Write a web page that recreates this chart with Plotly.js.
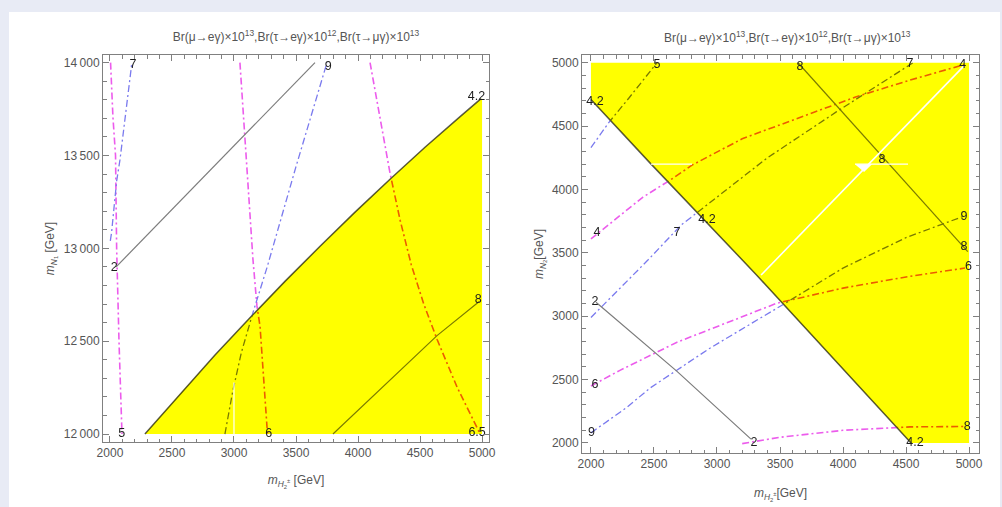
<!DOCTYPE html>
<html>
<head>
<meta charset="utf-8">
<script src="https://cdn.plot.ly/plotly-3.0.1.min.js"></script>
<style>
  html, body { margin: 0; padding: 0; background: #e8ebf5; }
  #chart { width: 1002px; height: 507px; }
</style>
</head>
<body>
<div id="chart"></div>
<script>
// ---------- left panel: m_N1 versus m_H2± ----------
// Br(mu->e gamma) contours (solid)
const L_mueg42_x = [2282, 2565, 2847, 3129, 3411, 3694, 3976, 4258, 4540, 4823, 4992];
const L_mueg42_y = [12000, 12215, 12425, 12626, 12822, 13011, 13195, 13372, 13544, 13709, 13806];
const L_mueg2_x = [2050, 3653];
const L_mueg2_y = [12900, 14000];
const L_mueg8_x = [3798, 4200, 4637, 4980];
const L_mueg8_y = [12000, 12255, 12530, 12715];
// Br(tau->e gamma) contours
const L_taueg7_x = [2003, 2013, 2030, 2054, 2081, 2121, 2177];
const L_taueg7_y = [13040, 13084, 13200, 13362, 13477, 13708, 14000];
const L_taueg9_x = [2927, 2990, 3060, 3153, 3266, 3500, 3750];
const L_taueg9_y = [12000, 12230, 12440, 12654, 12896, 13440, 14000];
// Br(tau->mu gamma) contours
const L_taumug5_x = [2005, 2024, 2045, 2054, 2073, 2097];
const L_taumug5_y = [14000, 13708, 13500, 13000, 12500, 12000];
const L_taumug6_x = [3048, 3089, 3130, 3153, 3185, 3210, 3266, 3272];
const L_taumug6_y = [14000, 13600, 13200, 12940, 12690, 12580, 12040, 12000];
const L_taumug65_x = [4097, 4180, 4258, 4340, 4430, 4530, 4637, 4800, 4960, 4985];
const L_taumug65_y = [14000, 13700, 13405, 13150, 12910, 12700, 12510, 12250, 12040, 12000];
// excluded region above the 4.2 contour
const L_region_x = [2282, 2565, 2847, 3129, 3411, 3694, 3976, 4258, 4540, 4823, 4992, 5000, 5000];
const L_region_y = [12000, 12215, 12425, 12626, 12822, 13011, 13195, 13372, 13544, 13709, 13806, 13806, 12000];
const L_gap_x = [3000, 3000];
const L_gap_y = [12000, 12277];
// contour labels
const L_lab_text = ['7', '9', '4.2', '2', '5', '6', '8', '6.5'];
const L_lab_x = [2185, 3760, 4955, 2035, 2095, 3280, 4970, 4960];
const L_lab_y = [13990, 13975, 13815, 12895, 12000, 12000, 12725, 12005];

// ---------- right panel: m_N2 versus m_H2± ----------
const R_mueg42_x = [2000, 2468, 3310, 4540];
const R_mueg42_y = [4710, 4210, 3330, 2000];
const R_mueg2_x = [2040, 2683, 3270];
const R_mueg2_y = [3110, 2565, 2030];
const R_mueg8_x = [3643, 4990];
const R_mueg8_y = [5000, 3510];
const R_taueg5_x = [2000, 2143, 2300, 2492, 2524];
const R_taueg5_y = [4330, 4530, 4720, 4958, 5000];
const R_taueg7_x = [2000, 2452, 2714, 2889, 3400, 3944, 4556];
const R_taueg7_y = [2990, 3443, 3718, 3852, 4250, 4610, 5000];
const R_taueg9_x = [2000, 2286, 2468, 2944, 3556, 4000, 4500, 4960];
const R_taueg9_y = [2080, 2282, 2433, 2748, 3111, 3380, 3620, 3790];
const R_taumug4_x = [2000, 2413, 2627, 2802, 3200, 3659, 4100, 4532, 4960];
const R_taumug4_y = [3610, 3940, 4073, 4192, 4400, 4571, 4730, 4863, 4985];
const R_taumug6_x = [2000, 2230, 2683, 3100, 3476, 4000, 4500, 4968];
const R_taumug6_y = [2450, 2573, 2795, 2960, 3103, 3222, 3310, 3380];
const R_taumug8_x = [3200, 3500, 4000, 4532, 4960];
const R_taumug8_y = [1995, 2045, 2100, 2127, 2130];
const R_region_x = [2000, 5000, 5000, 4540, 3310, 2468, 2000];
const R_region_y = [5000, 5000, 2000, 2000, 3330, 4210, 4710];
// sampling gaps inside the region
const R_gapd_x = [3350, 4960];
const R_gapd_y = [3325, 4975];
const R_gaph1_x = [2476, 2802];
const R_gaph1_y = [4200, 4200];
const R_gaph2_x = [4095, 4516];
const R_gaph2_y = [4200, 4200];
const R_gapt_x = [4095, 4230, 4167, 4095];
const R_gapt_y = [4200, 4200, 4137, 4200];
const R_lab_text = ['5', '8', '7', '4', '4.2', '8', '4', '7', '4.2', '9', '8', '6', '2', '6', '9', '2', '8', '4.2'];
const R_lab_x = [2524, 3659, 4532, 4950, 2032, 4310, 2048, 2683, 2921, 4960, 4960, 4995, 2032, 2032, 2005, 3294, 4985, 4571];
const R_lab_y = [4981, 4966, 4995, 4981, 4690, 4232, 3655, 3655, 3757, 3781, 3545, 3388, 3110, 2456, 2077, 2000, 2127, 2000];

// tick labels
const L_xticks = [2000, 2500, 3000, 3500, 4000, 4500, 5000];
const L_xtext = ['2000', '2500', '3000', '3500', '4000', '4500', '5000'];
const L_yticks = [12000, 12500, 13000, 13500, 14000];
const L_ytext = ['12\u2009000', '12\u2009500', '13\u2009000', '13\u2009500', '14\u2009000'];
const R_xticks = [2000, 2500, 3000, 3500, 4000, 4500, 5000];
const R_xtext = ['2000', '2500', '3000', '3500', '4000', '4500', '5000'];
const R_yticks = [2000, 2500, 3000, 3500, 4000, 4500, 5000];
const R_ytext = ['2000', '2500', '3000', '3500', '4000', '4500', '5000'];

const TITLE = 'Br(\u03bc\u2192e\u03b3)\u00d710<sup>13</sup>,Br(\u03c4\u2192e\u03b3)\u00d710<sup>12</sup>,Br(\u03c4\u2192\u03bc\u03b3)\u00d710<sup>13</sup>';
const XTITLE_L = '<i>m</i><sub><i>H</i><sub>2</sub><sup>\u00b1</sup></sub> [GeV]';
const XTITLE_R = '<i>m</i><sub><i>H</i><sub>2</sub><sup>\u00b1</sup></sub>[GeV]';
const YTITLE_L = '<i>m</i><sub><i>N</i><sub>1</sub></sub> [GeV]';
const YTITLE_R = '<i>m</i><sub><i>N</i><sub>2</sub></sub>[GeV]';

// ---------- styles ----------
const FONT = 'Liberation Sans, Arial, sans-serif';
const GRAY = '#7c7c7c';
const EDGE = '#5a5a5a';
const BLUE = 'rgb(122,122,238)';
const MAGENTA = 'rgb(236,92,236)';
const DOTDASH = '7px,3px,2px,3px';
const YELLOW = 'rgb(255,255,0)';
const TEXTGRAY = '#555';

function curve(x, y, xa, ya, color, dash, width) {
  return { type: 'scatter', mode: 'lines', x: x, y: y, xaxis: xa, yaxis: ya,
           line: { color: color, dash: dash, width: width },
           hoverinfo: 'skip', showlegend: false };
}
function area(x, y, xa, ya, color) {
  return { type: 'scatter', mode: 'none', x: x, y: y, xaxis: xa, yaxis: ya,
           fill: 'toself', fillcolor: color, hoverinfo: 'skip', showlegend: false };
}
function labels(t, x, y, xa, ya) {
  return { type: 'scatter', mode: 'text', x: x, y: y, text: t, xaxis: xa, yaxis: ya,
           textposition: 'middle center',
           textfont: { family: FONT, size: 12.5, color: '#1e1e1e' },
           hoverinfo: 'skip', showlegend: false };
}

const traces = [
  // left panel
  curve(L_taumug5_x, L_taumug5_y, 'x', 'y', MAGENTA, DOTDASH, 1.6),
  curve(L_taumug6_x, L_taumug6_y, 'x', 'y', MAGENTA, DOTDASH, 1.6),
  curve(L_taumug65_x, L_taumug65_y, 'x', 'y', MAGENTA, DOTDASH, 1.6),
  curve(L_taueg7_x, L_taueg7_y, 'x', 'y', BLUE, DOTDASH, 1.3),
  curve(L_taueg9_x, L_taueg9_y, 'x', 'y', BLUE, DOTDASH, 1.3),
  curve(L_mueg2_x, L_mueg2_y, 'x', 'y', GRAY, 'solid', 1.2),
  curve(L_mueg8_x, L_mueg8_y, 'x', 'y', GRAY, 'solid', 1.2),
  curve(L_mueg42_x, L_mueg42_y, 'x', 'y', EDGE, 'solid', 1.5),
  area(L_region_x, L_region_y, 'x', 'y', YELLOW),
  curve(L_gap_x, L_gap_y, 'x', 'y', 'white', 'solid', 1.2),
  labels(L_lab_text, L_lab_x, L_lab_y, 'x', 'y'),
  // right panel
  curve(R_taumug4_x, R_taumug4_y, 'x2', 'y2', MAGENTA, DOTDASH, 1.6),
  curve(R_taumug6_x, R_taumug6_y, 'x2', 'y2', MAGENTA, DOTDASH, 1.6),
  curve(R_taumug8_x, R_taumug8_y, 'x2', 'y2', MAGENTA, DOTDASH, 1.6),
  curve(R_taueg5_x, R_taueg5_y, 'x2', 'y2', BLUE, DOTDASH, 1.3),
  curve(R_taueg7_x, R_taueg7_y, 'x2', 'y2', BLUE, DOTDASH, 1.3),
  curve(R_taueg9_x, R_taueg9_y, 'x2', 'y2', BLUE, DOTDASH, 1.3),
  curve(R_mueg2_x, R_mueg2_y, 'x2', 'y2', GRAY, 'solid', 1.2),
  curve(R_mueg8_x, R_mueg8_y, 'x2', 'y2', GRAY, 'solid', 1.2),
  curve(R_mueg42_x, R_mueg42_y, 'x2', 'y2', EDGE, 'solid', 1.5),
  area(R_region_x, R_region_y, 'x2', 'y2', YELLOW),
  curve(R_gapd_x, R_gapd_y, 'x2', 'y2', 'white', 'solid', 1.6),
  curve(R_gaph1_x, R_gaph1_y, 'x2', 'y2', 'white', 'solid', 1.4),
  curve(R_gaph2_x, R_gaph2_y, 'x2', 'y2', 'white', 'solid', 1.4),
  area(R_gapt_x, R_gapt_y, 'x2', 'y2', 'white'),
  labels(R_lab_text, R_lab_x, R_lab_y, 'x2', 'y2')
];

const W = 1002, H = 507;
const px = v => v / W;
const py = v => 1 - v / H;

function frameAxis(domain, range, vals, text, anchor, title, standoff) {
  return {
    domain: domain, range: range, anchor: anchor,
    tickmode: 'array', tickvals: vals, ticktext: text,
    ticks: 'inside', ticklen: 6, tickwidth: 1, tickcolor: '#808080',
    showline: true, linecolor: '#808080', linewidth: 1, mirror: 'allticks',
    minor: { dtick: 100, tick0: 0, ticks: 'inside', ticklen: 3.5, tickcolor: '#808080', tickwidth: 1 },
    showgrid: false, zeroline: false, fixedrange: true,
    tickfont: { family: FONT, size: 12, color: TEXTGRAY },
    title: { text: title, standoff: standoff, font: { family: FONT, size: 12, color: TEXTGRAY } }
  };
}

const layout = {
  width: W, height: H,
  margin: { l: 0, r: 0, t: 0, b: 0 },
  paper_bgcolor: '#e8ebf5',
  plot_bgcolor: 'white',
  showlegend: false,
  title: { text: TITLE, x: px(296), xanchor: 'center', xref: 'paper', y: py(37), yanchor: 'middle', yref: 'paper',
           font: { family: FONT, size: 12, color: TEXTGRAY } },
  xaxis: frameAxis([px(103), px(489)], [1944, 5056], L_xticks, L_xtext, 'y', XTITLE_L, 16),
  yaxis: frameAxis([1 - 442 / H, 1 - 55 / H], [11957, 14041], L_yticks, L_ytext, 'x', YTITLE_L, 6),
  xaxis2: frameAxis([px(582), px(979)], [1929, 5079], R_xticks, R_xtext, 'y2', XTITLE_R, 18),
  yaxis2: frameAxis([1 - 453 / H, 1 - 55 / H], [1921, 5061], R_yticks, R_ytext, 'x2', YTITLE_R, 5),
  shapes: [
    { type: 'rect', xref: 'paper', yref: 'paper', x0: px(9), x1: px(1000), y0: 0, y1: py(12),
      fillcolor: 'white', line: { width: 0 }, layer: 'below' }
  ],
  annotations: [
    { text: TITLE, xref: 'paper', yref: 'paper', x: px(787), y: py(37), showarrow: false,
      xanchor: 'center', yanchor: 'middle', font: { family: FONT, size: 12, color: TEXTGRAY } }
  ]
};

Plotly.newPlot('chart', traces, layout, { displayModeBar: false }).then(gd => {
  // the excluded region tints the contour lines beneath it
  gd.querySelectorAll('path.js-fill').forEach(p => {
    if ((p.style.fill || '').replace(/\s/g, '') === 'rgb(255,255,0)') {
      p.style.mixBlendMode = 'multiply';
    }
  });
});
</script>
</body>
</html>
